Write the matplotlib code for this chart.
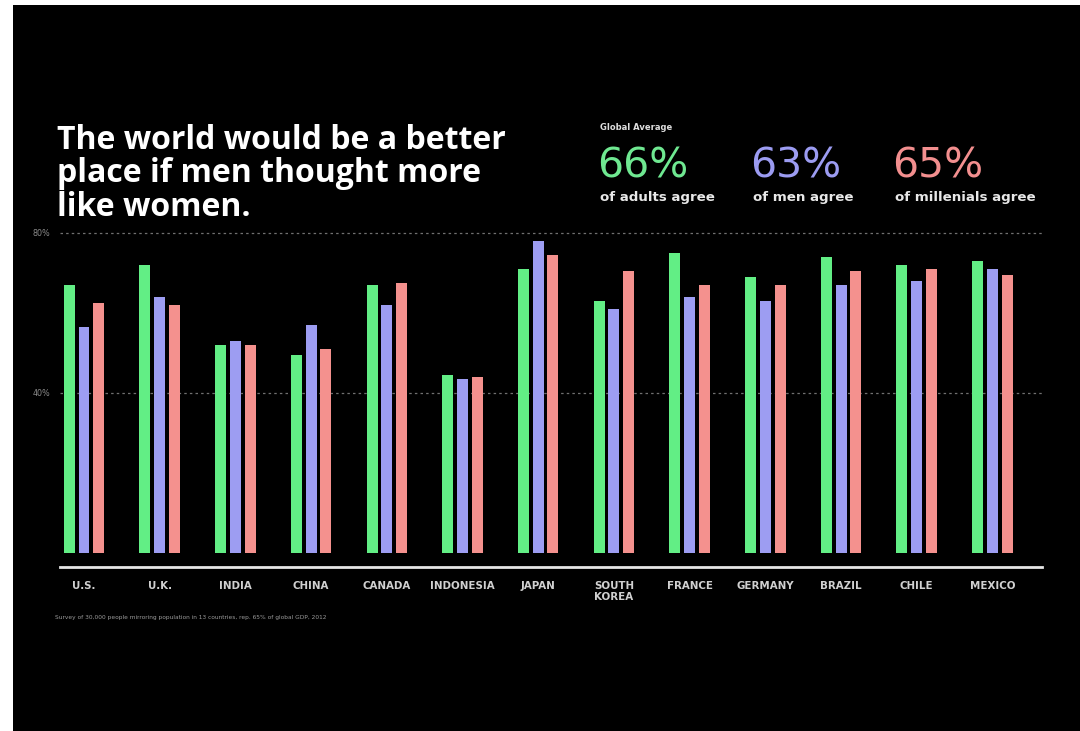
import matplotlib
matplotlib.use("Agg")
import matplotlib.pyplot as plt
import numpy as np
from matplotlib.patches import Rectangle

countries = ["U.S.", "U.K.", "INDIA", "CHINA", "CANADA", "INDONESIA", "JAPAN",
             "SOUTH\nKOREA", "FRANCE", "GERMANY", "BRAZIL", "CHILE", "MEXICO"]
adults = [67, 72, 52, 49.5, 67, 44.5, 71, 63, 75, 69, 74, 72, 73]
men = [56.5, 64, 53, 57, 62, 43.5, 78, 61, 64, 63, 67, 68, 71]
millennials = [62.5, 62, 52, 51, 67.5, 44, 74.5, 70.5, 67, 67, 70.5, 71, 69.5]
series_names = ["adults", "men", "millennials"]
global_avg = ["66%", "63%", "65%"]
avg_labels = ["of adults agree", "of men agree", "of millenials agree"]
yticks = [40, 80]
ytick_labels = ["40%", "80%"]

bar_colors = ["#62ee85", "#9d9df2", "#f4918e"]
text_colors = ["#6fe891", "#9c9cf2", "#f38f8f"]

W, H = 1080, 731
fig = plt.figure(figsize=(W / 100, H / 100), dpi=100, facecolor="white")
fig.patches.append(Rectangle((13 / W, 0), 1 - 13 / W, 1 - 5 / H, transform=fig.transFigure,
                             facecolor="black", edgecolor="none", zorder=-10))

ax = fig.add_axes([60 / W, 1 - 567 / H, 982 / W, 354 / H])
ax.set_zorder(1)
ax.set_facecolor("none")
x = np.arange(len(countries))
offset = 0.195
width = 0.145
for i, vals in enumerate([adults, men, millennials]):
    ax.bar(x + (i - 1) * offset, vals, width=width, color=bar_colors[i], zorder=3,
           label=series_names[i])

ax.set_xlim(-0.317, 12.655)
ax.set_ylim(-3.5, 85)
for s in ["top", "right", "left"]:
    ax.spines[s].set_visible(False)
ax.spines["bottom"].set_color("#e6e6e6")
ax.spines["bottom"].set_linewidth(2)
ax.set_xticks(x)
ax.set_xticklabels(countries, fontsize=7.4, fontweight="bold", color="#d0d0d0",
                   family="DejaVu Sans", va="top", multialignment="left")
ax.tick_params(axis="x", length=0, pad=10)
ax.set_yticks(yticks)
ax.set_yticklabels(ytick_labels, fontsize=5.8, color="#8a8a8a")
ax.tick_params(axis="y", length=0, pad=7)
ax.grid(axis="y", color="#707070", linestyle=(0, (2, 2.5)), linewidth=0.9, zorder=1)

fig.text(57 / W, 1 - 124 / H, "The world would be a better\nplace if men thought more\nlike women.",
         color="white", fontsize=23, fontweight="bold", family="Open Sans",
         va="top", ha="left", linespacing=1.02)

fig.text(600 / W, 1 - 128 / H, "Global Average", color="#dddddd", fontsize=6,
         fontweight="bold", va="center", ha="left")
xs = [597, 750, 892]
for i in range(3):
    fig.text(xs[i] / W, 1 - 167 / H, global_avg[i], color=text_colors[i], fontsize=29.5,
             family="DejaVu Sans", va="center", ha="left")
    fig.text((xs[i] + 3) / W, 1 - 197 / H, avg_labels[i], color="#e8e8e8", fontsize=9.6,
             family="DejaVu Sans", fontweight="bold", va="center", ha="left")

fig.text(55 / W, 1 - 617 / H,
         "Survey of 30,000 people mirroring population in 13 countries, rep. 65% of global GDP, 2012",
         color="#9a9a9a", fontsize=4.2, va="center", ha="left")

fig.savefig("out.png", dpi=100, facecolor=fig.get_facecolor())
